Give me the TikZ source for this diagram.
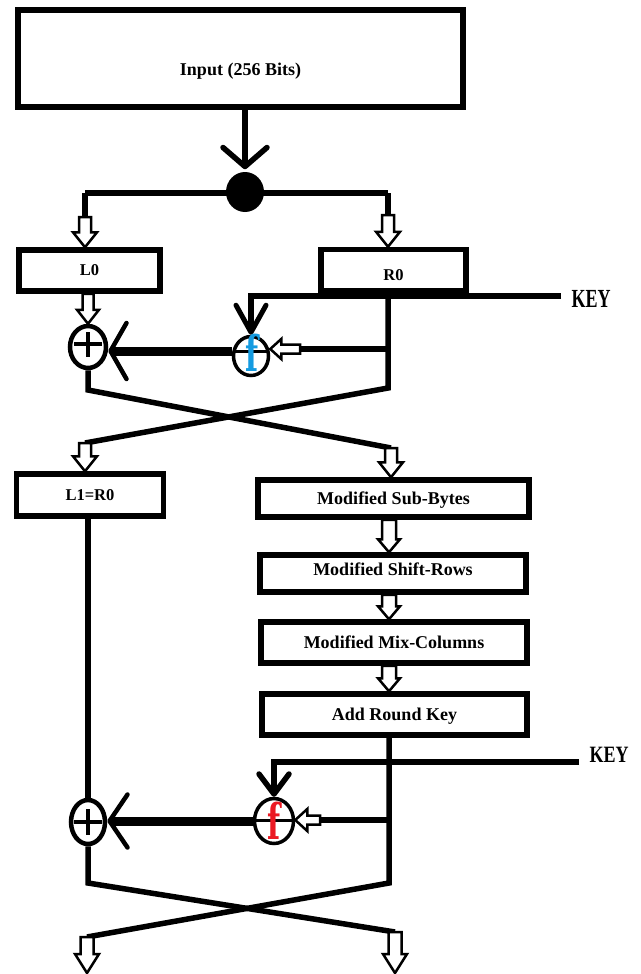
\documentclass[tikz,border=0pt]{standalone}
\usepackage{fontspec}
\setmainfont{Liberation Serif}
\newfontfamily\ffont{DejaVu Serif}
\usepackage{graphicx}
\usetikzlibrary{arrows.meta,shapes.geometric,calc}
\definecolor{fblue}{RGB}{20,155,225}
\definecolor{fred}{RGB}{235,25,35}
\newcommand\hdown[5]{\draw[hollowarr] let \p1=(#1),\p2=(#2) in (\x1-#3pt,\y1) -- (\x1-#3pt,\y2+#5pt) -- (\x1-#4pt,\y2+#5pt) -- (\x1,\y2) -- (\x1+#4pt,\y2+#5pt) -- (\x1+#3pt,\y2+#5pt) -- (\x1+#3pt,\y1) -- cycle;}
\newcommand\hleft[5]{\draw[hollowarr] let \p1=(#1),\p2=(#2) in (\x1,\y1-#3pt) -- (\x2+#5pt,\y1-#3pt) -- (\x2+#5pt,\y1-#4pt) -- (\x2,\y1) -- (\x2+#5pt,\y1+#4pt) -- (\x2+#5pt,\y1+#3pt) -- (\x1,\y1+#3pt) -- cycle;}
\newcommand\bigf{\scalebox{1.05}[1.7]{\fontsize{29}{29}\selectfont\ffont\bfseries f}}
\begin{document}
\begin{tikzpicture}[x=1pt,y=-1pt,line width=5.5pt,
  box/.style={draw,rectangle,line width=5.5pt,inner sep=0pt,font=\fontsize{18}{20}\selectfont\bfseries,text height=11.9pt,text depth=0pt},
  sbox/.style={box,font=\fontsize{16.5}{18}\selectfont\bfseries,text height=10.9pt},
  hollowarr/.style={draw=black,fill=white,line width=2.5pt,line join=miter},
  xorn/.style={draw,ellipse,line width=4.5pt,inner sep=0pt},
  fn/.style={draw,ellipse,line width=3.5pt,inner sep=0pt,fill=white},
  ftext/.style={inner sep=0pt},
  keyt/.style={inner sep=0pt,font=\fontsize{18}{20}\selectfont\bfseries}]
\useasboundingbox (0,0) rectangle (640,974);
% boxes
\node[box,line width=6pt,minimum width=445pt,minimum height=96pt,text height=33pt] (input) at (240.5,58.5) {Input (256 Bits)};
\node[sbox,minimum width=141pt,minimum height=41pt] (L0) at (89.5,270.5) {L0};
\node[sbox,minimum width=145pt,minimum height=41pt,text height=20.9pt] (R0) at (393.5,270) {R0};
\node[sbox,minimum width=147pt,minimum height=42pt] (L1) at (90,495) {L1=R0};
\node[box,minimum width=271pt,minimum height=37pt] (SB) at (393.5,498.5) {Modified Sub-Bytes};
\node[box,minimum width=266pt,minimum height=37pt,text height=4.9pt] (SR) at (393,573.5) {Modified Shift-Rows};
\node[box,minimum width=266pt,minimum height=41pt] (MC) at (394,642.5) {Modified Mix-Columns};
\node[box,minimum width=265pt,minimum height=41pt] (ARK) at (394.5,714.5) {Add Round Key};
% split
\node[ellipse,fill=black,minimum width=38pt,minimum height=40pt,inner sep=0pt] (dot) at (245,192) {};
\draw[-{Straight Barb[length=19pt,width=44pt,round]}] (dot |- input.south) -- (dot.north);
\coordinate (sl) at (85,193); \coordinate (sr) at (388,193);
\coordinate (la) at (85,217); \coordinate (ra) at (388,215);
\draw (sl) -- (sr);
\draw (sl) -- (la);
\draw (sr) -- (ra);
\hdown{la}{la |- L0.north}{6}{12}{15}
\hdown{ra}{ra |- R0.north}{6}{12}{15}
% round 1
\node[xorn,minimum width=36pt,minimum height=42pt] (xa) at (88,347) {};
\node[fn,minimum width=35pt,minimum height=39pt] (fa) at (251,356) {};
\node[keyt] (key1) at (591,298.5) {\scalebox{1}[1.45]{KEY}};
\coordinate (k1e) at (561,296); \coordinate (k1c) at (251,296);
\draw[line width=6pt,-{Straight Barb[length=27pt,width=30pt,line width=5pt,round]}] (k1e) -- (k1c) -- (fa.north);
\coordinate (r1) at (388,388); \coordinate (l1e) at (85,443);
\draw (sr |- R0.south) -- (r1) -- (l1e);
\coordinate (fr) at (388,349); \coordinate (fr2) at (300,349);
\draw (fr) -- (fr2);
\hleft{fr2}{fa.east}{4.5}{10}{11}
\coordinate (th1) at (0,351);
\draw[line width=9pt,-{Straight Barb[length=16pt,width=56pt,line width=4.5pt,round]}] (fa.west |- th1) -- (xa.east |- th1);
\draw[line width=3pt] ($(fa.center)+(-17,-5)$) -- ($(fa.center)+(17,-5)$);
\node[ftext,text=fblue] (fat) at (252,353) {\bigf};
\draw[line width=4pt] ($(xa.center)+(-14,-3)$) -- ($(xa.center)+(14,-3)$);
\draw[line width=4pt] ($(xa.center)+(0,-15)$) -- ($(xa.center)+(0,10)$);
\hdown{xa |- L0.south}{xa.north}{5.5}{11}{14}
\coordinate (l1) at (88,390); \coordinate (r1e) at (391,448);
\draw (xa.south) -- (l1) -- (r1e);
\hdown{l1e}{l1e |- L1.north}{6}{12}{15}
\hdown{r1e}{r1e |- SB.north}{6}{12}{15}
% chain
\coordinate (col) at (389,0);
\hdown{col |- SB.south}{col |- SR.north}{7}{11}{13}
\hdown{col |- SR.south}{col |- MC.north}{7}{11}{13}
\hdown{col |- MC.south}{col |- ARK.north}{7}{11}{13}
% round 2
\node[xorn,minimum width=34pt,minimum height=44pt] (xb) at (88,822) {};
\node[fn,minimum width=39pt,minimum height=45pt] (fb) at (274,821) {};
\node[keyt] (key2) at (609,754.5) {\scalebox{1}[1.3]{KEY}};
\coordinate (k2e) at (579,762); \coordinate (k2c) at (274,762);
\draw[-{Straight Barb[length=20pt,width=30pt,round]}] (k2e) -- (k2c) -- (fb.north);
\draw (xb.north |- L1.south) -- (xb.north);
\coordinate (r2) at (389,883); \coordinate (l2e) at (87,937);
\coordinate (l2) at (88,883); \coordinate (r2e) at (395,932);
\coordinate (e1) at (87,973); \coordinate (e2) at (395,973);
\draw (col |- ARK.south) -- (r2) -- (l2e);
\draw (xb.south) -- (l2) -- (r2e);
\coordinate (fr3) at (389,820); \coordinate (fr4) at (320,820);
\draw (fr3) -- (fr4);
\hleft{fr4}{fb.east}{4.5}{11}{12}
\coordinate (th2) at (0,821);
\draw[line width=9pt,-{Straight Barb[length=18pt,width=53pt,line width=4.5pt,round]}] (fb.west |- th2) -- (xb.east |- th2);
\draw[line width=3pt] ($(fb.center)+(-18,-1)$) -- ($(fb.center)+(18,-1)$);
\node[ftext,text=fred] (fbt) at (274,821) {\bigf};
\draw[line width=4pt] ($(xb.center)+(-14,0)$) -- ($(xb.center)+(14,0)$);
\draw[line width=4pt] ($(xb.center)+(0,-13)$) -- ($(xb.center)+(0,13)$);
\hdown{l2e}{e1}{6.5}{12}{19}
\hdown{r2e}{e2}{6.5}{12}{19}
\end{tikzpicture}
\end{document}
